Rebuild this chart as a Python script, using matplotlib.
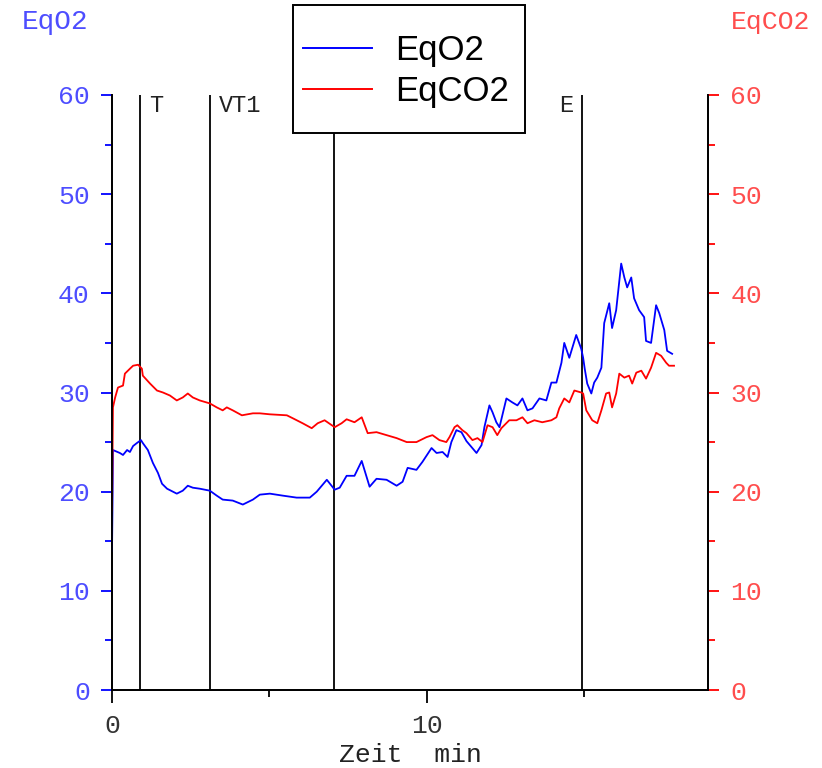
import matplotlib
matplotlib.use("Agg")
import matplotlib.pyplot as plt
from matplotlib.patches import Rectangle
from matplotlib.ticker import MultipleLocator

# ---- data ----
t_o2 = [0.00, 0.02, 0.03, 0.25, 0.35, 0.48, 0.57, 0.67, 0.79, 0.92, 0.98, 1.14, 1.30, 1.46,
        1.59, 1.75, 2.06, 2.25, 2.41, 2.57, 2.79, 3.11, 3.33, 3.52, 3.84, 4.16, 4.48, 4.70,
        5.02, 5.43, 5.87, 6.29, 6.51, 6.83, 7.08, 7.24, 7.46, 7.71, 7.94, 8.19, 8.41, 8.73,
        9.05, 9.24, 9.40, 9.68, 9.87, 10.16, 10.32, 10.51, 10.67, 10.79, 10.95, 11.11, 11.27,
        11.43, 11.59, 11.75, 11.84, 12.00, 12.10, 12.22, 12.32, 12.54, 12.73, 12.89, 13.05,
        13.21, 13.37, 13.59, 13.81, 13.97, 14.13, 14.29, 14.38, 14.54, 14.76, 14.92, 14.98,
        15.03, 15.11, 15.24, 15.33, 15.43, 15.56, 15.65, 15.81, 15.90, 16.03, 16.19, 16.29,
        16.38, 16.51, 16.60, 16.76, 16.92, 16.98, 17.14, 17.30, 17.40, 17.56, 17.65, 17.81]
eq_o2 = [14.0, 20.0, 24.2, 23.9, 23.7, 24.2, 24.0, 24.6, 24.9, 25.2, 24.9, 24.2, 22.9, 21.9,
         20.8, 20.3, 19.8, 20.1, 20.6, 20.4, 20.3, 20.1, 19.6, 19.2, 19.1, 18.7, 19.2, 19.7,
         19.8, 19.6, 19.4, 19.4, 20.0, 21.2, 20.2, 20.4, 21.6, 21.6, 23.1, 20.5, 21.3, 21.2,
         20.6, 21.0, 22.4, 22.2, 23.0, 24.4, 23.9, 24.0, 23.5, 25.0, 26.2, 26.0, 25.1,
         24.5, 23.9, 24.7, 26.5, 28.7, 28.0, 27.0, 26.5, 29.4, 29.0, 28.7, 29.4,
         28.2, 28.4, 29.4, 29.2, 31.0, 31.0, 33.0, 35.0, 33.5, 35.8, 34.4, 33.5,
         32.4, 30.9, 29.9, 31.0, 31.5, 32.5, 37.0, 39.0, 36.5, 38.3, 43.0, 41.6,
         40.6, 41.6, 39.5, 38.3, 37.6, 35.2, 35.0, 38.8, 38.0, 36.3, 34.2, 33.9]

t_co2 = [0.00, 0.03, 0.10, 0.19, 0.35, 0.41, 0.57, 0.67, 0.83, 0.95, 0.98, 1.21, 1.43, 1.62,
         1.84, 2.06, 2.25, 2.41, 2.57, 2.79, 3.11, 3.33, 3.52, 3.65, 3.84, 4.13, 4.48, 4.70,
         5.02, 5.56, 5.75, 6.06, 6.35, 6.54, 6.76, 7.08, 7.30, 7.46, 7.71, 7.94, 8.13, 8.41,
         8.73, 9.05, 9.37, 9.68, 10.00, 10.19, 10.41, 10.63, 10.73, 10.89, 10.98, 11.14, 11.27,
         11.46, 11.62, 11.78, 11.94, 12.10, 12.25, 12.38, 12.63, 12.86, 13.05, 13.21, 13.43,
         13.68, 13.97, 14.13, 14.22, 14.38, 14.54, 14.70, 14.92, 14.98, 15.08, 15.27, 15.43,
         15.56, 15.71, 15.81, 15.90, 16.03, 16.13, 16.29, 16.44, 16.54, 16.67, 16.83, 16.98,
         17.14, 17.30, 17.46, 17.62, 17.71, 17.87]
eq_co2 = [18.1, 28.5, 29.5, 30.5, 30.7, 31.9, 32.4, 32.7, 32.8, 32.4, 31.7, 30.9, 30.2, 30.0,
          29.7, 29.2, 29.5, 29.9, 29.5, 29.2, 28.9, 28.5, 28.2, 28.5, 28.2, 27.7, 27.9, 27.9,
          27.8, 27.7, 27.4, 26.9, 26.4, 26.9, 27.2, 26.5, 26.9, 27.3, 27.0, 27.5, 25.9, 26.0,
          25.7, 25.4, 25.0, 25.0, 25.5, 25.7, 25.2, 25.0, 25.5, 26.5, 26.7, 26.2, 25.9,
          25.2, 25.4, 25.0, 26.7, 26.5, 25.7, 26.4, 27.2, 27.2, 27.5, 26.9, 27.2,
          27.0, 27.2, 27.5, 28.4, 29.4, 29.0, 30.2, 30.0, 29.9, 28.2, 27.2, 26.9,
          28.2, 29.9, 30.0, 28.5, 29.9, 31.9, 31.5, 31.7, 30.9, 32.0, 32.2, 31.4,
          32.5, 34.0, 33.7, 33.0, 32.7, 32.7]

marker_times = [0.89, 3.11, 7.05, 14.95]
marker_labels = ["T", "VT1", "", "E"]
marker_label_side = ["right", "right", "right", "left"]

x_ticks = [0, 10]
y_ticks = [0, 10, 20, 30, 40, 50, 60]

# ---- figure ----
W, H = 822, 768
fig = plt.figure(figsize=(W / 100, H / 100), dpi=100)
ax_l, ax_r, ax_t, ax_b = 112, 708, 95, 690
ax = fig.add_axes([ax_l / W, 1 - ax_b / H, (ax_r - ax_l) / W, (ax_b - ax_t) / H])
ax2 = ax.twinx()

mono = "Liberation Mono"
fs = 19
blue_txt = "#4d4dff"
red_txt = "#ff4d4d"

ax.set_xlim(0, 18.95)
ax.set_ylim(0, 60)
ax2.set_ylim(0, 60)

l1, = ax.plot(t_o2, eq_o2, color="#0000ff", lw=1.3, label="EqO2", zorder=3)
l2, = ax.plot(t_co2, eq_co2, color="#ff0000", lw=1.3, label="EqCO2", zorder=3)

for tm, lab, side in zip(marker_times, marker_labels, marker_label_side):
    ax.axvline(tm, color="black", lw=1.3, zorder=2)
    if lab:
        if side == "right":
            ax.text(tm + 0.3, 58.9, lab, ha="left", va="center", fontsize=fs - 2,
                    family=mono, color="#222222")
        else:
            ax.text(tm - 0.3, 58.9, lab, ha="right", va="center", fontsize=fs - 2,
                    family=mono, color="#222222")

# spines
for a in (ax, ax2):
    a.spines["top"].set_visible(False)
    for s in ("left", "right", "bottom"):
        a.spines[s].set_color("black")
        a.spines[s].set_linewidth(1.3)

# x ticks
ax.set_xticks(x_ticks)
ax.xaxis.set_minor_locator(MultipleLocator(5))
ax.tick_params(axis="x", which="major", direction="out", length=9, width=1.3,
               colors="black", pad=8, labelsize=fs)
ax.tick_params(axis="x", which="minor", direction="out", length=5, width=1.3, colors="black")
for lbl in ax.get_xticklabels():
    lbl.set_family(mono)
    lbl.set_color("#333333")
ax.set_xlabel("Zeit  min", family=mono, fontsize=fs, color="#222222", labelpad=4)

# left y
ax.set_yticks(y_ticks)
ax.yaxis.set_minor_locator(MultipleLocator(5))
ax.tick_params(axis="y", which="major", direction="out", length=8, width=1.3,
               color="#0000ff", labelcolor=blue_txt, pad=8, labelsize=fs)
ax.tick_params(axis="y", which="minor", direction="out", length=5, width=1.3, color="#0000ff")
for lbl in ax.get_yticklabels():
    lbl.set_family(mono)

# right y
ax2.set_yticks(y_ticks)
ax2.yaxis.set_minor_locator(MultipleLocator(5))
ax2.tick_params(axis="y", which="major", direction="out", length=8, width=1.3,
                color="#ff0000", labelcolor=red_txt, pad=8, labelsize=fs)
ax2.tick_params(axis="y", which="minor", direction="out", length=5, width=1.3, color="#ff0000")
for lbl in ax2.get_yticklabels():
    lbl.set_family(mono)

# axis titles
fig.text(55 / W, 1 - 22 / H, "EqO2", ha="center", va="center", family=mono,
         fontsize=fs + 1, color=blue_txt)
fig.text(771 / W, 1 - 22 / H, "EqCO2", ha="center", va="center", family=mono,
         fontsize=fs, color=red_txt)

# legend with manual frame
rect = Rectangle((293 / W, 1 - 133 / H), (525 - 293) / W, (133 - 5) / H,
                 transform=fig.transFigure, facecolor="white", edgecolor="black",
                 lw=1.4, zorder=10)
fig.patches.append(rect)
leg = fig.legend(handles=[l1, l2], loc="center left",
                 bbox_to_anchor=(303 / W, 1 - 71 / H), frameon=False,
                 prop={"family": "Liberation Sans", "size": 25},
                 handlelength=2.0, handletextpad=0.65, labelspacing=0.25, borderpad=0,
                 borderaxespad=0)
for ln in leg.get_lines():
    ln.set_linewidth(1.4)
leg.set_zorder(11)

fig.savefig("out.png", dpi=100)
